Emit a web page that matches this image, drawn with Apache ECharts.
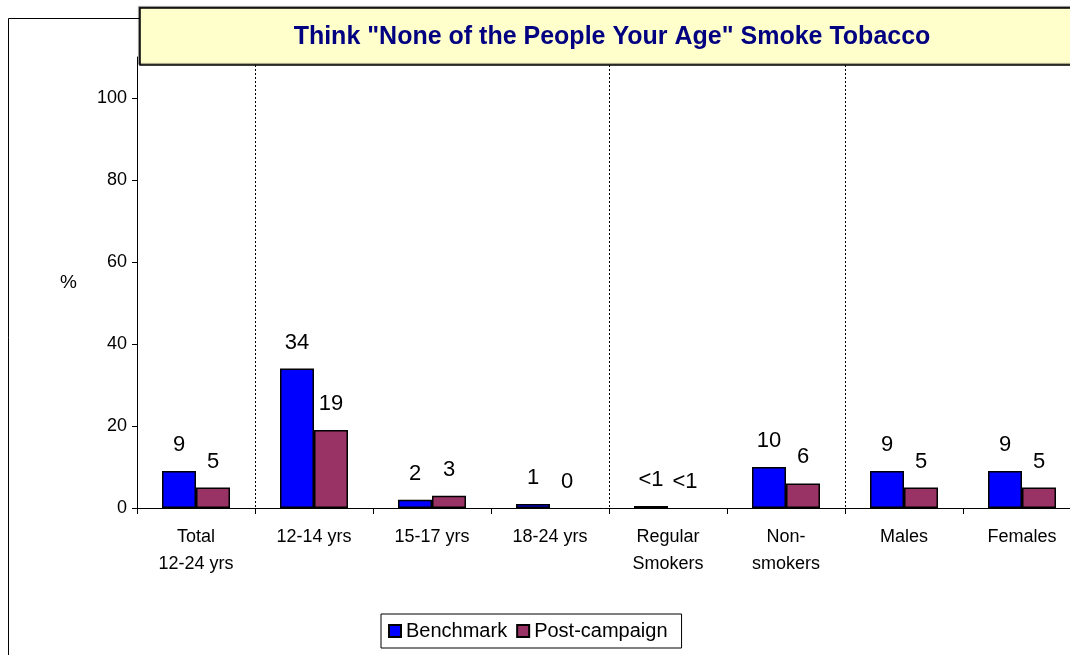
<!DOCTYPE html>
<html>
<head>
    <meta charset="utf-8">
    <title>ECharts</title>
    <script src="https://cdn.jsdelivr.net/npm/echarts@6/dist/echarts.min.js"></script>
</head>
<body style="margin:0">
<div id="main" style="width: 1070px;height:655px;"></div>
<script type="text/javascript">
    // data
    var categories = ['Total\n12-24 yrs', '12-14 yrs', '15-17 yrs', '18-24 yrs',
        'Regular\nSmokers', 'Non-\nsmokers', 'Males', 'Females'];
    var benchmark = [9, 34, 2, 1, 0.5, 10, 9, 9];
    var postCampaign = [5, 19, 3, 0, 0, 6, 5, 5];
    var benchmarkLabels = ['9', '34', '2', '1', '<1', '10', '9', '9'];
    var postLabels = ['5', '19', '3', '0', '<1', '6', '5', '5'];
    var yTicks = [0, 20, 40, 60, 80, 100];

    var font = 'Liberation Sans, Arial, sans-serif';

    function barLabel(labels) {
        return {
            show: true,
            position: 'top',
            distance: 15,
            fontSize: 22,
            fontFamily: font,
            color: '#000',
            formatter: function (p) { return labels[p.dataIndex]; }
        };
    }

    // zero bars get no outline (excel draws nothing there)
    function barData(values) {
        return values.map(function (v) {
            return v === 0 ? {value: v, itemStyle: {borderWidth: 0}} : v;
        });
    }

    var chart = echarts.init(document.getElementById('main'));
    chart.setOption({
        animation: false,
        backgroundColor: '#fff',
        textStyle: {fontFamily: font},
        grid: {left: 137, top: 57, width: 944, height: 451, containLabel: false, outerBoundsMode: 'none'},
        legend: {
            left: 381, top: 614,
            data: ['Benchmark', 'Post-campaign'],
            icon: 'rect',
            itemWidth: 12, itemHeight: 12,
            itemGap: 9,
            borderColor: '#000', borderWidth: 1, borderRadius: 0,
            padding: [7, 14, 7, 7],
            textStyle: {fontSize: 20, fontFamily: font, color: '#000', padding: [0, 0, 0, 0]}
        },
        xAxis: {
            type: 'category',
            data: categories,
            axisLine: {lineStyle: {color: '#000', width: 1}},
            axisTick: {show: true, length: 6, lineStyle: {color: '#000'}},
            axisLabel: {interval: 0, fontSize: 18, lineHeight: 27, margin: 16, color: '#000', fontFamily: font},
            splitLine: {
                show: true,
                interval: function (index) { return index === 1 || index === 4 || index === 6; },
                lineStyle: {color: '#000', type: [2, 2], width: 1}
            }
        },
        yAxis: {
            type: 'value',
            min: yTicks[0], max: 110, interval: 20,
            name: '%',
            nameLocation: 'middle',
            nameRotate: 0,
            nameGap: 60,
            nameTextStyle: {fontSize: 19, color: '#000', fontFamily: font},
            axisLine: {show: true, lineStyle: {color: '#000', width: 1}},
            axisTick: {show: true, length: 5, lineStyle: {color: '#000'}},
            axisLabel: {fontSize: 18, color: '#000', margin: 10, fontFamily: font, showMaxLabel: false},
            splitLine: {show: false}
        },
        series: [{
            name: 'Benchmark',
            type: 'bar',
            data: barData(benchmark),
            barWidth: 34,
            barGap: '0%',
            itemStyle: {color: '#0000FF', borderColor: '#000', borderWidth: 1.5},
            label: barLabel(benchmarkLabels)
        }, {
            name: 'Post-campaign',
            type: 'bar',
            data: barData(postCampaign),
            barWidth: 34,
            barGap: '0%',
            itemStyle: {color: '#993366', borderColor: '#000', borderWidth: 1.5},
            label: barLabel(postLabels)
        }],
        graphic: [{
            type: 'rect',
            z: -10,
            silent: true,
            shape: {x: 8.5, y: 18.5, width: 1200, height: 800},
            style: {fill: 'none', stroke: '#000', lineWidth: 1}
        }, {
            type: 'rect',
            z: 100,
            silent: true,
            shape: {x: 140, y: 8, width: 1000, height: 57},
            style: {fill: '#FFFFCC', stroke: '#000', lineWidth: 1.5,
                shadowColor: 'rgba(0,0,0,0.5)', shadowOffsetX: -1, shadowOffsetY: -1, shadowBlur: 1}
        }, {
            type: 'text',
            z: 101,
            silent: true,
            x: 612, y: 37,
            style: {
                text: 'Think "None of the People Your Age" Smoke Tobacco',
                fontSize: 25, fontWeight: 'bold', fontFamily: font,
                fill: '#000080', align: 'center', verticalAlign: 'middle'
            }
        }]
    });
</script>
</body>
</html>
